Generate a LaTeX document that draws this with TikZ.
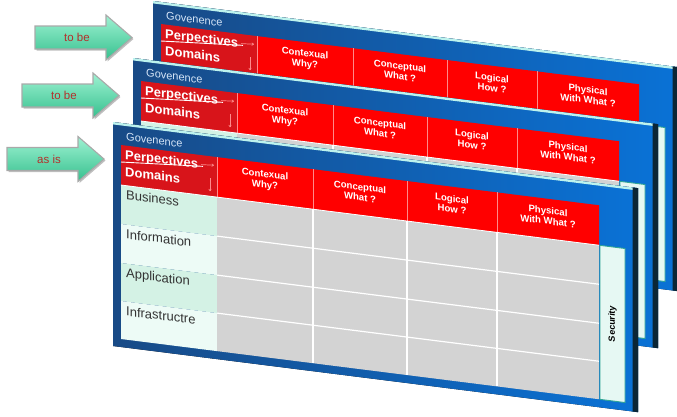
\documentclass[tikz,border=0pt]{standalone}
\usepackage{fontspec}
\setmainfont{Liberation Sans}
\usetikzlibrary{arrows.meta}
\definecolor{navyL}{HTML}{184A86}
\definecolor{blueR}{HTML}{0A72D6}
\definecolor{edgeDark}{HTML}{0B2636}
\definecolor{hilite}{HTML}{BDF3EE}
\definecolor{hdrRed}{HTML}{FF0000}
\definecolor{perpRed}{HTML}{D8141A}
\definecolor{divPink}{HTML}{FF8A8A}
\definecolor{gridGray}{HTML}{D3D3D3}
\definecolor{mintA}{HTML}{D4F2E5}
\definecolor{mintB}{HTML}{EDFBF6}
\definecolor{secFill}{HTML}{E6F8F3}
\definecolor{secLine}{HTML}{2FA595}
\definecolor{govText}{HTML}{D6E6F8}
\definecolor{arrTop}{HTML}{9EF2D2}
\definecolor{arrBot}{HTML}{36C08E}
\definecolor{arrEdge}{HTML}{A9A9A9}
\definecolor{arrText}{HTML}{B3302C}
\definecolor{labelText}{HTML}{333333}
\tikzset{
  govstyle/.style={text=govText, font=\fontsize{11}{13}\selectfont, inner sep=0pt, anchor=base west, transform shape},
  perpstyle/.style={text=white, font=\bfseries\fontsize{13}{15}\selectfont, inner sep=0pt, anchor=base west, transform shape},
  colhead/.style={text=white, font=\bfseries\fontsize{9.6}{10.5}\selectfont, align=center, inner sep=0pt, transform shape},
  rowlabel/.style={text=labelText, font=\fontsize{13}{15}\selectfont, inner sep=0pt, anchor=base west, transform shape},
  secstyle/.style={text=black, font=\bfseries\fontsize{9}{11}\selectfont, inner sep=0pt, rotate=90, transform shape},
  divline/.style={divPink, line width=0.6pt},
  gridline/.style={white, line width=1.2pt},
  pinkarrow/.style={divPink, line width=0.7pt, -{To[length=2.5pt,width=3pt]}},
  arrshape/.style={top color=arrTop, bottom color=arrBot, draw=arrEdge, line width=1.1pt, line join=miter},
  arrshadow/.style={fill=black!25},
  arrlabel/.style={text=arrText, font=\fontsize{11.5}{13}\selectfont, inner sep=0pt},
}
% #1 name prefix, #2 x, #3 y, #4 = 1 when the lower part is visible
\newcommand\eapanel[4]{%
\begin{scope}[shift={(#2,#3)}, yslant=-0.126]
  % frame
  \fill[left color=navyL, right color=blueR] (0,0) rectangle (525,224);
  \fill[hilite] (0,0) rectangle (520,2.4);
  \fill[edgeDark] (519.5,0) rectangle (525,224);
  \node[govstyle] (#1-gov) at (13,17) {Govenence};
  % header
  \fill[hdrRed] (104,22) rectangle (486,62);
  \fill[perpRed] (8,22) rectangle (104,62);
  \foreach \cx in {104,200,294,384} \draw[divline] (\cx,22) -- (\cx,62);
  \node[perpstyle] (#1-perp) at (12,35.5) {Perpectives};
  \draw[white, line width=0.9pt] (8,39) -- (90,33);
  \draw[pinkarrow] (88,31.5) -- (101,30.5);
  \node[perpstyle] (#1-dom) at (12,52.5) {Domains};
  \draw[pinkarrow] (97,44) -- (97,57);
  \node[colhead] (#1-c1) at (152,39) {Contexual\\Why?};
  \node[colhead] (#1-c2) at (247,39) {Conceptual\\What ?};
  \node[colhead] (#1-c3) at (339,39) {Logical\\How ?};
  \node[colhead] (#1-c4) at (435,39) {Physical\\With What ?};
  % left column
  \fill[mintA] (8,62) rectangle (104,101);
  \fill[mintB] (8,101) rectangle (104,140);
  \fill[mintA] (8,140) rectangle (104,178);
  \fill[mintB] (8,178) rectangle (104,216);
  % grid
  \fill[gridGray] (104,62) rectangle (486,216);
  \foreach \cx in {200,294,384} \draw[gridline] (\cx,62) -- (\cx,216);
  \foreach \ry in {101,140,178} \draw[gridline] (104,\ry) -- (486,\ry);
  \draw[white, line width=0.8pt] (8,62) -- (486,62);
  % security
  \fill[secFill] (487,62) rectangle (512,216);
  \draw[secLine, line width=0.9pt] (487,62) rectangle (512,216);
  \ifnum#4=1
    \node[rowlabel] (#1-r1) at (13,76) {Business};
    \node[rowlabel] (#1-r2) at (13,115) {Information};
    \node[rowlabel] (#1-r3) at (13,154) {Application};
    \node[rowlabel] (#1-r4) at (13,192) {Infrastructre};
    \node[secstyle] (#1-sec) at (499.5,139) {Security};
  \fi
\end{scope}}
\newcommand\garrow[4]{%
  \fill[arrshadow] (#2+1.5,#3-10) -- (#2+72.5,#3-10) -- (#2+72.5,#3-21) -- (#2+98.5,#3+1.5)
     -- (#2+72.5,#3+24) -- (#2+72.5,#3+13) -- (#2+1.5,#3+13) -- cycle;
  \draw[arrshape] (#2,#3-11.5) -- (#2+71,#3-11.5) -- (#2+71,#3-22.5) -- (#2+97,#3)
     -- (#2+71,#3+22.5) -- (#2+71,#3+11.5) -- (#2,#3+11.5) -- cycle;
  \node[arrlabel] (#1) at (#2+42,#3) {#4};
}
\begin{document}
\begin{tikzpicture}[x=1pt,y=-1pt]
\useasboundingbox (0,0) rectangle (677,416);
\eapanel{top}{153}{1}{0}
\eapanel{mid}{133}{58}{0}
\eapanel{front}{113}{122}{1}
\garrow{arrA}{35}{37.5}{to be}
\garrow{arrB}{22}{95.5}{to be}
\garrow{arrC}{7}{159}{as is}
\end{tikzpicture}
\end{document}
